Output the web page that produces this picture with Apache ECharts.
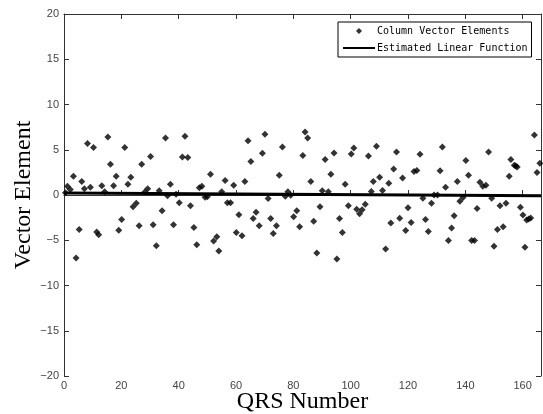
<!DOCTYPE html>
<html>
<head>
<meta charset="utf-8">
<script src="https://cdn.jsdelivr.net/npm/echarts@6/dist/echarts.min.js"></script>
<style>
  html, body { margin: 0; padding: 0; background: #fff; }
  #chart { width: 543px; height: 414px; }
</style>
</head>
<body>
<div id="chart"></div>
<script>
// QRS number of each point
var qrsNum = [0.5,1.2,2.2,3.3,4.2,5.3,6.2,7.1,8.2,9.2,10.3,11.4,12.1,13.2,14.2,15.3,16.2,17.3,18.2,19.1,
  20.1,21.2,22.3,23.3,24.1,25.2,26.2,27.1,28.2,29.2,30.2,31.1,32.2,33.2,34.2,35.4,36.1,37.1,38.2,39.1,
  40.2,41.3,42.2,43.2,44.1,45.3,46.3,47.2,48.1,49.2,50.0,51.1,52.2,53.3,54.0,55.0,56.2,57.0,58.1,59.2,
  60.1,61.0,62.1,63.1,64.2,65.2,66.0,67.0,68.1,69.2,70.1,71.2,72.1,73.0,74.1,75.1,76.2,77.2,78.1,79.1,
  80.1,81.2,82.2,83.3,84.1,85.0,86.1,87.1,88.2,89.3,90.1,91.1,92.2,93.1,94.2,95.2,96.1,97.1,98.1,99.2,
  100.2,101.1,102.1,103.1,104.0,105.1,106.2,107.2,107.9,109.0,110.1,111.1,112.2,113.3,114.0,115.0,116.0,117.1,118.1,119.2,
  120.0,121.1,122.1,123.1,124.2,125.2,126.1,127.1,128.2,129.1,130.3,131.2,132.0,133.1,134.1,135.2,136.1,137.2,138.1,139.2,
  140.2,141.1,142.2,143.2,144.1,145.1,146.1,147.2,148.1,149.2,150.0,151.2,152.1,153.2,154.2,155.3,155.9,157.1,157.6,158.1,
  159.2,160.1,160.8,161.4,162.1,162.8,164.1,165.0,166.0];
// column vector element values
var vecElem = [0.25,0.96,0.6,2.06,-6.95,-3.8,1.5,0.7,5.7,0.85,5.26,-4.1,-4.4,1.03,0.37,6.4,3.4,1.03,2.06,-3.9,
  -2.7,5.26,1.18,1.95,-1.29,-0.92,-3.4,3.4,0.33,0.7,4.26,-3.3,-5.6,0.48,-1.73,6.3,-0.07,1.18,-3.3,0.07,
  -0.85,4.2,6.5,4.15,-1.18,-3.6,-5.5,0.8,0.96,-0.26,-0.18,2.28,-5.07,-4.6,-6.2,0.37,1.6,-0.85,-0.85,1.07,
  -4.15,-2.17,-4.5,1.5,6.0,3.7,-2.6,-1.9,-3.4,4.6,6.7,-0.4,-2.6,-4.26,-3.4,2.17,5.3,-0.15,0.37,-0.04,
  -2.39,-1.73,-3.5,4.37,6.95,6.3,1.5,-2.9,-6.4,-1.29,0.48,3.93,0.37,2.28,4.63,-7.06,-2.6,-4.15,1.18,-1.18,
  4.52,5.18,-1.58,-2.06,-1.62,-1.03,4.3,0.4,1.5,5.4,1.95,0.51,-5.96,1.29,-3.1,2.87,4.74,-2.57,1.87,-3.93,
  -1.4,-3.05,2.6,2.72,4.5,-0.37,-2.72,-4.04,-0.92,0.0,0.0,2.68,5.3,0.85,-5.04,-3.64,-2.28,1.5,-0.7,-0.29,
  3.82,2.17,-5.04,-5.04,-1.5,1.4,0.96,1.07,4.74,-0.37,-5.66,-3.82,-1.18,-3.5,-0.92,2.06,3.93,3.3,3.2,3.1,
  -1.36,-2.2,-5.77,-2.76,-2.65,-2.54,6.62,2.5,3.5];
// estimated linear function end points
var fitX = [0, 166.4];
var fitY = [0.22, -0.07];

var xTicks = [0, 20, 40, 60, 80, 100, 120, 140, 160];
var yTicks = [-20, -15, -10, -5, 0, 5, 10, 15, 20];

var pts = [];
for (var i = 0; i < qrsNum.length; i++) pts.push([qrsNum[i], vecElem[i]]);
var fitLine = [];
for (var j = 0; j < fitX.length; j++) fitLine.push([fitX[j], fitY[j]]);

var axisCol = '#333';
var lblStyle = { color: '#444', fontFamily: 'Liberation Sans', fontSize: 11 };

var myChart = echarts.init(document.getElementById('chart'));
var option = {
  animation: false,
  backgroundColor: '#fff',
  grid: { left: 64, right: 2, top: 14, bottom: 38, outerBoundsMode: 'none', containLabel: false },
  legend: {
    orient: 'vertical',
    left: 338, top: 22,
    padding: [4, 4, 4, 5],
    itemGap: 7,
    itemWidth: 32, itemHeight: 6,
    symbolKeepAspect: true,
    borderColor: '#000', borderWidth: 1,
    backgroundColor: '#fff',
    textStyle: { fontFamily: 'DejaVu Sans Mono', fontSize: 10, lineHeight: 10, color: '#000', padding: [0, 0, 0, -3] },
    data: [
      { name: 'Column Vector Elements', icon: 'path://M3,0L6,3L3,6L0,3Z', itemStyle: { color: '#000' } },
      { name: 'Estimated Linear Function', icon: 'path://M0,0H16V1H0Z', itemStyle: { color: '#000' } }
    ]
  },
  xAxis: [{
    type: 'value', min: 0, max: 166.4, interval: 20,
    name: 'QRS Number', nameLocation: 'middle', nameGap: 14, nameMoveOverlap: false,
    nameTextStyle: { fontFamily: 'Liberation Serif', fontSize: 24, color: '#000' },
    axisLine: { lineStyle: { color: axisCol } },
    axisTick: { inside: true, length: 5, lineStyle: { color: axisCol } },
    axisLabel: Object.assign({ margin: 4, showMaxLabel: false,
      formatter: function (v) { return xTicks.indexOf(v) >= 0 ? v : ''; } }, lblStyle),
    splitLine: { show: false }
  }, {
    type: 'value', position: 'top', min: 0, max: 166.4, interval: 20,
    axisLine: { show: true, onZero: false, lineStyle: { color: axisCol } },
    axisTick: { inside: true, length: 5, lineStyle: { color: axisCol } },
    axisLabel: { show: false },
    splitLine: { show: false }
  }],
  yAxis: [{
    type: 'value', min: -20, max: 20, interval: 5,
    name: 'Vector Element', nameLocation: 'middle', nameGap: 28, nameRotate: 90, nameMoveOverlap: false,
    nameTextStyle: { fontFamily: 'Liberation Serif', fontSize: 24, color: '#000' },
    axisLine: { show: true, onZero: false, lineStyle: { color: axisCol } },
    axisTick: { show: true, inside: true, length: 5, lineStyle: { color: axisCol } },
    axisLabel: Object.assign({ margin: 5,
      formatter: function (v) { return yTicks.indexOf(v) >= 0 ? String(v).replace('-', '\u2212') : ''; } }, lblStyle),
    splitLine: { show: false }
  }, {
    type: 'value', position: 'right', min: -20, max: 20, interval: 5,
    axisLine: { show: true, onZero: false, lineStyle: { color: axisCol } },
    axisTick: { show: true, inside: true, length: 5, lineStyle: { color: axisCol } },
    axisLabel: { show: false },
    splitLine: { show: false }
  }],
  series: [{
    name: 'Column Vector Elements',
    type: 'scatter',
    symbol: 'diamond',
    symbolSize: 7,
    itemStyle: { color: '#000' },
    data: pts,
    z: 3
  }, {
    name: 'Estimated Linear Function',
    type: 'line',
    symbol: 'none',
    lineStyle: { color: '#000', width: 3 },
    itemStyle: { color: '#000' },
    data: fitLine,
    z: 2
  }]
};
myChart.setOption(option);
</script>
</body>
</html>
